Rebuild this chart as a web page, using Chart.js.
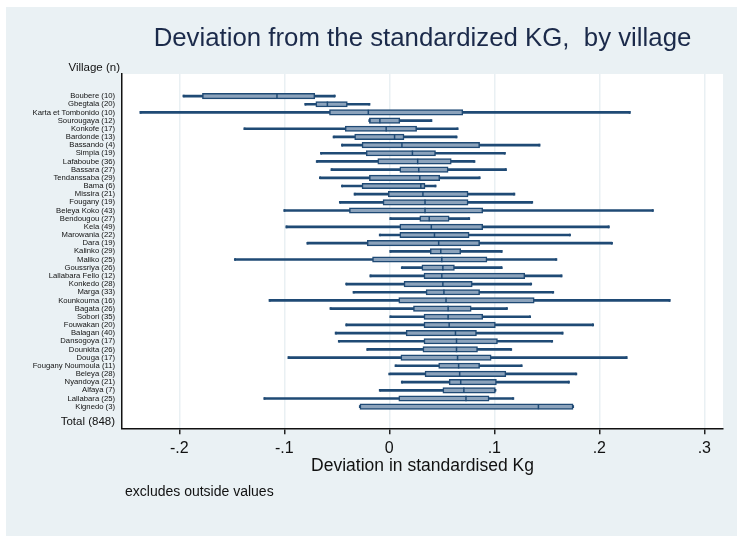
<!DOCTYPE html>
<html>
<head>
<meta charset="utf-8">
<script src="https://cdn.jsdelivr.net/npm/chart.js@4.4.1/dist/chart.umd.min.js"></script>
<style>
  body { margin: 0; background: #fff; }
  .chart-box { width: 737px; height: 536px; }
</style>
</head>
<body>
<div class="chart-box"><canvas id="boxChart"></canvas></div>
<script>
// Villages, top to bottom, and their number of observations
const villages = ['Boubere', 'Gbegtala', 'Karta et Tombonido', 'Sourougaya', 'Konkofe', 'Bardonde',
  'Bassando', 'Simpia', 'Lafaboube', 'Bassara', 'Tendanssaba', 'Bama', 'Missira', 'Fougany',
  'Beleya Koko', 'Bendougou', 'Kela', 'Marowania', 'Dara', 'Kalinko', 'Maliko', 'Goussriya',
  'Lallabara Fello', 'Konkedo', 'Marga', 'Kounkouma', 'Bagata', 'Sobori', 'Fouwakan', 'Balagan',
  'Dansogoya', 'Dounkita', 'Douga', 'Fougany Noumoula', 'Beleya', 'Nyandoya', 'Alfaya',
  'Lallabara', 'Kignedo']
const counts = [10, 20, 10, 12, 17, 13, 4, 19, 36, 27, 29, 6, 21, 19, 43, 27, 49, 22, 19, 29, 25,
  26, 12, 28, 33, 16, 26, 35, 20, 40, 17, 26, 17, 11, 28, 21, 7, 25, 3]
const totalCount = 848

// Box plot values (lower whisker, quartile 1, median, quartile 3, upper whisker)
const whiskerLow = [-0.196, -0.080, -0.237, -0.019, -0.138, -0.053, -0.045, -0.065, -0.069, -0.055,
  -0.066, -0.045, -0.033, -0.047, -0.100, 0.001, -0.098, -0.009, -0.078, 0.001, -0.147, 0.012,
  -0.018, -0.041, -0.034, -0.114, -0.056, 0.001, -0.041, -0.051, -0.048, -0.021, -0.096, 0.006,
  0.000, 0.012, -0.009, -0.119, -0.028]
const boxLow = [-0.178, -0.070, -0.057, -0.019, -0.042, -0.033, -0.026, -0.022, -0.011, 0.010,
  -0.019, -0.026, -0.001, -0.006, -0.038, 0.029, 0.010, 0.010, -0.021, 0.039, -0.016, 0.031,
  0.033, 0.014, 0.035, 0.009, 0.023, 0.033, 0.033, 0.016, 0.033, 0.032, 0.011, 0.047,
  0.034, 0.057, 0.051, 0.009, -0.028]
const medians = [-0.107, -0.059, -0.020, -0.009, -0.003, 0.005, 0.012, 0.022, 0.027, 0.028,
  0.029, 0.030, 0.032, 0.034, 0.034, 0.038, 0.040, 0.043, 0.047, 0.049, 0.050, 0.051,
  0.050, 0.051, 0.052, 0.054, 0.056, 0.056, 0.057, 0.063, 0.064, 0.064, 0.065, 0.066,
  0.067, 0.068, 0.071, 0.073, 0.142]
const boxHigh = [-0.071, -0.040, 0.070, 0.010, 0.026, 0.014, 0.086, 0.044, 0.059, 0.056,
  0.048, 0.034, 0.075, 0.075, 0.089, 0.057, 0.089, 0.076, 0.086, 0.068, 0.093, 0.062,
  0.129, 0.079, 0.086, 0.138, 0.078, 0.089, 0.101, 0.083, 0.103, 0.084, 0.097, 0.086,
  0.111, 0.102, 0.101, 0.095, 0.175]
const whiskerHigh = [-0.052, -0.019, 0.229, 0.040, 0.065, 0.064, 0.143, 0.110, 0.081, 0.111,
  0.086, 0.044, 0.119, 0.136, 0.251, 0.076, 0.209, 0.172, 0.212, 0.107, 0.159, 0.107,
  0.164, 0.135, 0.156, 0.267, 0.112, 0.134, 0.194, 0.165, 0.155, 0.116, 0.226, 0.126,
  0.178, 0.171, 0.101, 0.118, 0.175]

const xTicks = [-0.2, -0.1, 0, 0.1, 0.2, 0.3]
const totalPos = 39.8

const navy = '#1f4a75'
const boxFill = '#8ca3bc'
const fontFamily = '"Liberation Sans", Arial, sans-serif'

const rows = villages.map((v, i) => i)

function formatTick(value) {
    if (value === 0) return '0'
    const tenth = Math.round(Math.abs(value) * 10)
    return (value < 0 ? '-' : '') + '.' + tenth
}

function rowLabel(value) {
    if (Math.abs(value - totalPos) < 0.01) return `Total (${totalCount})`
    return `${villages[value]} (${counts[value]})`
}

// Background, plot area and the extra texts
const backdrop = {
    id: 'backdrop',
    beforeDraw(chart) {
        const {ctx, width, height, chartArea: a} = chart
        ctx.save()
        ctx.fillStyle = '#ffffff'
        ctx.fillRect(0, 0, width, height)
        ctx.fillStyle = '#eaf1f4'
        ctx.fillRect(6, 7, width - 6, height - 7)
        ctx.fillStyle = '#ffffff'
        ctx.fillRect(a.left, a.top, a.right - a.left, a.bottom - a.top)
        ctx.restore()
    },
    afterDraw(chart) {
        const {ctx, chartArea: a} = chart
        ctx.save()
        ctx.textBaseline = 'middle'

        ctx.fillStyle = '#1b2a4a'
        ctx.font = `25.8px ${fontFamily}`
        ctx.textAlign = 'center'
        ctx.fillText('Deviation from the standardized KG,  by village', (a.left + a.right) / 2, 38.5)

        ctx.fillStyle = '#111111'
        ctx.font = `11.5px ${fontFamily}`
        ctx.textAlign = 'right'
        ctx.fillText('Village (n)', a.left - 2, 67.5)

        ctx.font = `14px ${fontFamily}`
        ctx.textAlign = 'left'
        ctx.fillText('excludes outside values', a.left + 3, 492.5)
        ctx.restore()
    }
}

const ctx = document.getElementById('boxChart')

new Chart(ctx, {
    type: 'bar',
    data: {
        datasets: [
            {
                type: 'bar',
                indexAxis: 'y',
                data: rows.map(i => ({x: [whiskerLow[i], whiskerHigh[i]], y: i})),
                backgroundColor: navy,
                barThickness: 2,
                grouped: false,
                order: 3
            },
            {
                type: 'bar',
                indexAxis: 'y',
                data: rows.map(i => ({x: [boxLow[i], boxHigh[i]], y: i})),
                backgroundColor: boxFill,
                borderColor: navy,
                borderWidth: 1.5,
                borderSkipped: false,
                barThickness: 5.5,
                grouped: false,
                order: 2
            },
            {
                type: 'scatter',
                data: rows.map(i => ({x: medians[i], y: i})),
                pointStyle: 'line',
                rotation: 90,
                radius: 2.7,
                borderColor: navy,
                borderWidth: 1.5,
                order: 1
            },
            {
                type: 'scatter',
                data: rows.map(i => ({x: whiskerLow[i], y: i}))
                    .concat(rows.map(i => ({x: whiskerHigh[i], y: i}))),
                pointStyle: 'line',
                rotation: 90,
                radius: 1.3,
                borderColor: navy,
                borderWidth: 2,
                order: 1
            }
        ]
    },
    options: {
        responsive: true,
        maintainAspectRatio: false,
        animation: false,
        layout: {
            padding: {top: 74, right: 14, bottom: 57.7, left: 0}
        },
        plugins: {
            legend: {display: false},
            tooltip: {enabled: false}
        },
        scales: {
            x: {
                type: 'linear',
                min: -0.2546,
                max: 0.3178,
                offset: false,
                afterBuildTicks: (scale) => {
                    scale.ticks = xTicks.map(v => ({value: v}))
                },
                afterFit: (scale) => {
                    scale.height = 50
                },
                ticks: {
                    callback: formatTick,
                    font: {size: 16, family: fontFamily},
                    color: '#111111',
                    padding: 5,
                    maxRotation: 0
                },
                grid: {
                    offset: false,
                    color: '#e9f0f3',
                    lineWidth: 1.5,
                    tickColor: '#222222',
                    tickLength: 6
                },
                border: {display: true, color: '#111111', width: 1.5},
                title: {
                    display: true,
                    text: 'Deviation in standardised Kg',
                    font: {size: 17.5, family: fontFamily},
                    color: '#111111',
                    padding: {top: 0, bottom: 2}
                }
            },
            y: {
                type: 'linear',
                reverse: true,
                min: -2.7,
                max: 40.65,
                offset: false,
                afterBuildTicks: (scale) => {
                    scale.ticks = rows.concat([totalPos]).map(v => ({value: v}))
                },
                afterFit: (scale) => {
                    scale.width = 122
                },
                ticks: {
                    autoSkip: false,
                    callback: rowLabel,
                    font: (c) => (c.tick && c.tick.value === totalPos)
                        ? {size: 11.5, family: fontFamily}
                        : {size: 7.7, family: fontFamily},
                    color: '#111111',
                    padding: 7
                },
                grid: {display: false, drawTicks: false, offset: false},
                border: {display: true, color: '#111111', width: 1.5}
            }
        }
    },
    plugins: [backdrop]
})
</script>
</body>
</html>
